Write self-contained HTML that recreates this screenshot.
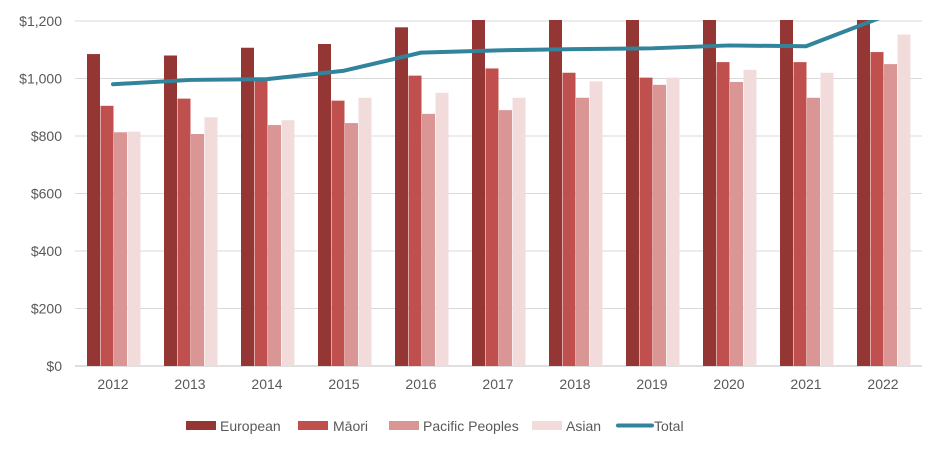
<!DOCTYPE html>
<html><head><meta charset="utf-8"><style>
body{margin:0;background:#fff;font-family:"Liberation Sans",sans-serif}
</style></head><body>
<svg id="chart" width="940" height="454" xmlns="http://www.w3.org/2000/svg" font-family="Liberation Sans, sans-serif">
<defs><clipPath id="plotclip"><rect x="70" y="20" width="860" height="350"/></clipPath></defs>
<g id="grid"></g><g id="bars" clip-path="url(#plotclip)"></g><g id="line" clip-path="url(#plotclip)"></g><g id="axes"></g>
<g font-size="14" fill="#595959">
<rect x="186" y="421" width="30" height="9" fill="#943634"/>
<text x="220" y="431">European</text>
<rect x="298" y="421" width="30" height="9" fill="#C0504D"/>
<text x="333" y="431">Māori</text>
<rect x="389" y="421" width="30" height="9" fill="#DA9694"/>
<text x="423" y="431">Pacific Peoples</text>
<rect x="532" y="421" width="30" height="9" fill="#F2DCDB"/>
<text x="566" y="431">Asian</text>
<line x1="618" y1="425.5" x2="652" y2="425.5" stroke="#31849B" stroke-width="4" stroke-linecap="round"/>
<text x="654" y="431">Total</text>
</g>
</svg>
<script>
const categories=["2012","2013","2014","2015","2016","2017","2018","2019","2020","2021","2022"];
const european=[1085,1080,1107,1120,1178,1230,1250,1250,1250,1250,1300];
const maori=[905,930,995,923,1010,1035,1020,1003,1057,1057,1092];
const pacific=[813,807,838,845,877,890,933,978,988,933,1050];
const asian=[815,865,855,933,950,933,990,1003,1030,1020,1153];
const total=[980,995,998,1027,1090,1098,1102,1105,1115,1112,1215];
const yTicks=[0,200,400,600,800,1000,1200];
const yTickLabels=["$0","$200","$400","$600","$800","$1,000","$1,200"];
const NS="http://www.w3.org/2000/svg";
const y0=366,yScale=345/1200,x0=113,step=77,bw=13;
function y(v){return y0-v*yScale;}
function x(i){return x0+i*step;}
function mk(tag,attrs,parent){const e=document.createElementNS(NS,tag);for(const k in attrs)e.setAttribute(k,attrs[k]);document.getElementById(parent).appendChild(e);return e;}
yTicks.forEach((t,i)=>{
  const l=mk("line",{x1:75,x2:922,y1:y(t),y2:y(t),stroke:t===0?"#bfbfbf":"#d9d9d9","stroke-width":1},"grid");
  
  
  const tx=mk("text",{x:62,y:y(t)+5,"text-anchor":"end","font-size":"14",fill:"#595959"},"axes");
  tx.textContent=yTickLabels[i];
  
  
});
const series=[[european,"#943634","european"],[maori,"#C0504D","maori"],[pacific,"#DA9694","pacific"],[asian,"#F2DCDB","asian"]];
categories.forEach((c,i)=>{
  series.forEach((s,j)=>{
    const bx=x(i)-26+j*13.5;
    const r=mk("rect",{x:bx,y:y(s[0][i]),width:bw,height:s[0][i]*yScale,fill:s[1]},"bars");
    
    
  });
  const tx=mk("text",{x:x(i),y:389,"text-anchor":"middle","font-size":"14",fill:"#595959"},"axes");
  tx.textContent=c;
  
  
});
const pts=total.map((v,i)=>x(i)+","+y(v)).join(" ");
const pl=mk("polyline",{points:pts,fill:"none",stroke:"#31849B","stroke-width":4,"stroke-linejoin":"round","stroke-linecap":"round"},"line");


</script>
</body></html>
